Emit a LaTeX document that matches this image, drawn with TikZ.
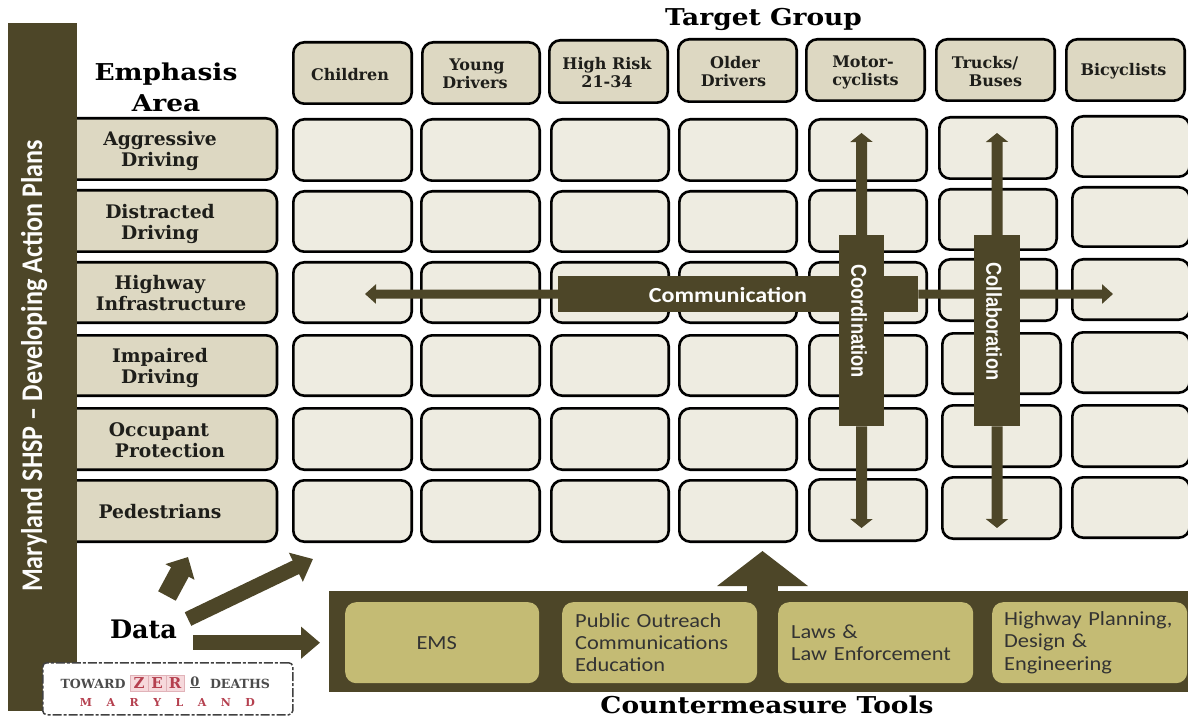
\documentclass[tikz,border=0pt]{standalone}
\usepackage{fontspec}
\setmainfont{Liberation Serif}
\newfontfamily\carl[FakeStretch=1.12]{Carlito}
\newfontfamily\carlc[FakeStretch=0.87]{Carlito}
\newfontfamily\arlc[FakeStretch=0.85]{Liberation Sans}
\newfontfamily\dser{DejaVu Serif}
\newfontfamily\dserw[FakeStretch=1.14]{DejaVu Serif}
\definecolor{dk}{HTML}{4D4628}
\definecolor{tan}{HTML}{DDD8C2}
\definecolor{pale}{HTML}{EEECE1}
\definecolor{gold}{HTML}{C4BB74}
\definecolor{logored}{HTML}{B5404F}
\definecolor{logopink}{HTML}{F6D9DC}
\definecolor{inkk}{HTML}{1E1E1A}
\usetikzlibrary{arrows.meta}
\tikzset{
 x=1pt,y=-1pt,
 cellbox/.style={draw=black,line width=2.6pt,rounded corners=11pt,fill=pale,inner sep=0},
 headbox/.style={draw=black,line width=2.6pt,rounded corners=11pt,fill=tan,inner sep=0},
 headtext/.style={align=center,inner sep=0,font=\bfseries\fontsize{16}{18}\selectfont\dser,text=inkk},
 emphtext/.style={align=center,inner sep=0,font=\bfseries\fontsize{18.7}{21.5}\selectfont\dser,text=inkk},
 titletext/.style={inner sep=0,font=\bfseries\fontsize{23.2}{31}\selectfont\dserw,text=black,align=center},
 bar/.style={fill=dk,draw=none,inner sep=0},
 toolbox/.style={fill=gold,draw=none,rounded corners=11pt,align=left,font=\carl\fontsize{20}{22.3}\selectfont,text=black!80,minimum height=81pt,anchor=north west,inner ysep=0},
 hthin/.style={draw=dk,line width=9pt,-{Triangle[length=11pt,width=19pt]}},
 vthin/.style={draw=dk,line width=11pt,-{Triangle[length=9pt,width=22pt]}},
 fatarrow/.style={draw=dk,line width=15pt,-{Triangle[length=19pt,width=31pt]}},
 stubarrow/.style={draw=dk,line width=20pt,-{Triangle[length=17pt,width=32pt]}},
 rottext/.style={rotate=-90,text=white!95!tan,inner sep=0,font=\bfseries\arlc\fontsize{21.5}{24}\selectfont},
 logotext/.style={inner sep=0,font=\bfseries\fontsize{12.6}{14}\selectfont\dser,text=black!70},
}
\newcommand{\cellcol}[4]{%
 \foreach \row/\c/\d in {#4}{%
  \pgfmathsetmacro\w{#3-#2-2.6}\pgfmathsetmacro\h{\d-\c-2.6}%
  \node[cellbox,minimum width=\w pt,minimum height=\h pt] (c#1\row) at ({(#2+#3)/2},{(\c+\d)/2}) {};}}
\begin{document}
\begin{tikzpicture}
\useasboundingbox (0,0) rectangle (1188,719);
\fill[white] (0,0) rectangle (1188,719);
% titles
\node[titletext] (target) at (763.5,19) {Target Group};
\node[titletext] (emph) at (166,87) {Emphasis\\Area};
\node[titletext] (cmt) at (767,705) {Countermeasure Tools};
% headers
\foreach \n/\a/\b/\c/\d/\tx/\ty/\t in {
 h1/292/413/41/105/350/74.5/{Children},
 h2/421/541/41/105/475/74/{\hspace*{4pt}Young\\Drivers},
 h3/548/669/39/104/607/73/{High Risk\\21-34},
 h4/677/798/38/103/733.5/72/{\hspace*{3pt}Older\\Drivers},
 h5/805/926/38/102/865.5/72/{Motor-\hspace*{5pt}\\cyclists},
 h6/935/1056/38/102/985/72/{Trucks/\\\hspace*{21pt}Buses},
 h7/1065/1186/38/102/1123.5/71.5/{Bicyclists}}{
 \pgfmathsetmacro\w{\b-\a-2.6}\pgfmathsetmacro\h{\d-\c-2.6}
 \node[headbox,minimum width=\w pt,minimum height=\h pt] (\n) at ({(\a+\b)/2},{(\c+\d)/2}) {};
 \node[headtext] (\n t) at (\tx,\ty) {\t};
}
% emphasis area
\foreach \n/\c/\d/\tx/\ty/\t in {
 e1/117/181/160/151/{Aggressive\\Driving},
 e2/189/253/160/224/{Distracted\\Driving},
 e3/261/324/165.5/293/{Highway\hspace*{11pt}\\\hspace*{11pt}Infrastructure},
 e4/334/397/160/368/{Impaired\\Driving},
 e5/407/471/164.5/440/{Occupant\hspace*{11pt}\\\hspace*{11pt}Protection},
 e6/479/543/160/511.5/{Pedestrians}}{
 \pgfmathsetmacro\h{\d-\c-2.6}
 \node[headbox,minimum width=218pt,minimum height=\h pt] (\n) at (168,{(\c+\d)/2}) {};
 \node[emphtext] (\n t) at (\tx,\ty) {\t};
}
% left bar
\node[bar,minimum width=68.5pt,minimum height=688pt,anchor=north west] (leftbar) at (8,23) {};
\node[rotate=90,anchor=base,inner sep=0,text=white!95!tan,font=\bfseries\carlc\fontsize{30}{32}\selectfont] (lefttext) at (42,366) {Maryland SHSP – Developing Action Plans};
% grid
\cellcol{1}{292}{413}{1/118/182,2/190/253,3/261/324,4/334/397,5/407/471,6/479/543}
\cellcol{2}{420}{541}{1/118/182,2/190/253,3/261/324,4/334/397,5/407/471,6/479/543}
\cellcol{3}{550}{670}{1/118/182,2/190/253,3/261/324,4/334/397,5/407/471,6/479/543}
\cellcol{4}{678}{798}{1/118/182,2/190/253,3/261/324,4/334/397,5/407/471,6/479/543}
\cellcol{5}{808}{928}{1/118/182,2/189/253,3/261/324,4/334/397,5/407/471,6/478/542}
\cellcol{6}{938}{1058}{1/116/180,2/188/251,3/258/322}
\cellcol{6}{941}{1062}{4/332/395,5/404/468,6/476/540}
\cellcol{7}{1071}{1191}{1/115/178,2/186/248,3/258/321,4/331/394,5/404/468,6/476/539}
% bars and connectors
\node[bar,minimum width=360pt,minimum height=36pt,anchor=north west] (comm) at (558,276) {};
\node[bar,minimum width=45pt,minimum height=191pt,anchor=north west] (coor) at (839,235) {};
\node[bar,minimum width=46pt,minimum height=191pt,anchor=north west] (coll) at (974,235) {};
\coordinate (commL) at (365,294);
\coordinate (commR) at (1113,294);
\coordinate (coorT) at (861.5,133);
\coordinate (coorB) at (861.5,528);
\coordinate (collT) at (997,133);
\coordinate (collB) at (997,528);
\draw[hthin] (comm.west) -- (commL);
\draw[hthin] (comm.east) -- (commR);
\draw[vthin] (coor.north) -- (coorT);
\draw[vthin] (coor.south) -- (coorB);
\draw[vthin] (coll.north) -- (collT);
\draw[vthin] (coll.south) -- (collB);
\node[inner sep=0,text=white!95!tan,font=\bfseries\carl\fontsize{21.5}{24}\selectfont] (commt) at (728,295) {Communication};
\node[rottext] (coort) at (859,321) {Coordination};
\node[rottext] (collt) at (994,321.5) {Collaboration};
% bottom tools
\node[bar,minimum width=859pt,minimum height=101pt,anchor=north west] (tools) at (329,591) {};
\node[toolbox,minimum width=194pt,align=center,text width=194pt,inner xsep=0] (t1) at (345,602) {\hspace*{-11pt}EMS};
\node[toolbox,text width=169pt,inner xsep=13pt] (t2) at (562,602) {Public Outreach\\Communications\\Education};
\node[toolbox,text width=169pt,inner xsep=13pt] (t3) at (778,602) {Laws \&\\Law Enforcement};
\node[toolbox,text width=171pt,inner xsep=12pt] (t4) at (992,602) {Highway Planning,\\Design \&\\Engineering};
\coordinate (bigT) at (762.5,551);
\coordinate (bigB) at (762.5,592);
\draw[dk,line width=31pt,-{Triangle[length=35pt,width=89pt]}] (bigB) -- (bigT);
% data
\node[inner sep=0,font=\bfseries\fontsize{25.5}{28}\selectfont\dser,text=black] (data) at (143.5,629) {Data};
\coordinate (d1s) at (167,596);
\coordinate (d1) at (188,557);
\coordinate (d2s) at (188,619);
\coordinate (d2) at (313,559);
\coordinate (d3s) at (193,642.7);
\coordinate (d3) at (320,642.7);
\draw[stubarrow] (d1s) -- (d1);
\draw[fatarrow] (d2s) -- (d2);
\draw[fatarrow] (d3s) -- (d3);
% logo
\node[draw=black!75,dash pattern=on 9pt off 2pt on 3pt off 2pt,line width=1.5pt,fill=white,rounded corners=4pt,minimum width=250pt,minimum height=52pt,anchor=north west,inner sep=0] (logo) at (42,662) {};
\node[logotext] (lgA) at (93,683.5) {TOWARD};
\foreach \n/\x/\l in {z/139/Z,e/157/E,r/175/R}{
 \node[fill=logopink,draw=logored!40,line width=.4pt,minimum width=18pt,minimum height=16pt,inner sep=0,text=logored,font=\bfseries\fontsize{15}{16}\selectfont\dser] (lg\n) at (\x,683) {\l};
}
\node[logotext,font=\bfseries\fontsize{13}{14}\selectfont\dser] (lgO) at (195,682) {0};
\draw[black!70,line width=1pt] (lgO.south west) -- (lgO.south east);
\node[logotext] (lgB) at (240,683.5) {DEATHS};
\node[inner sep=0,font=\bfseries\fontsize{11}{12}\selectfont\dser,text=logored] (lgC) at (167.5,702) {M\hspace{14.5pt}A\hspace{14.5pt}R\hspace{14.5pt}Y\hspace{14.5pt}L\hspace{14.5pt}A\hspace{14.5pt}N\hspace{14.5pt}D};
\end{tikzpicture}
\end{document}
